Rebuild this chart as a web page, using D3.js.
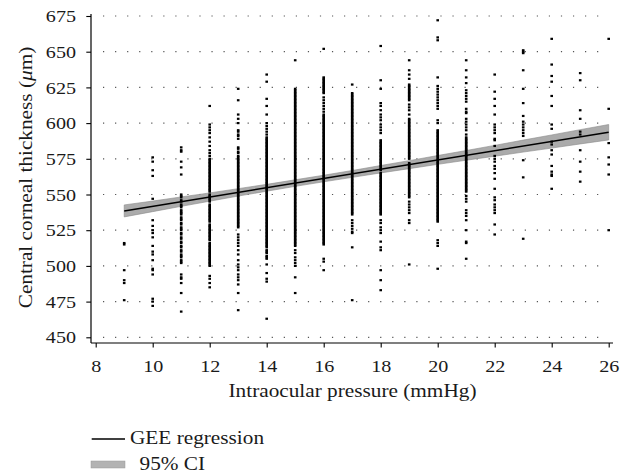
<!DOCTYPE html>
<html>
<head>
  <meta charset="utf-8">
  <script src="https://cdn.jsdelivr.net/npm/d3@7"></script>
  <style>
    body { margin: 0; background: #fff; }
    svg text { font-family: "Liberation Serif", "Times New Roman", serif; fill: #1a1a1a; }
  </style>
</head>
<body>
<script>
// intraocular pressure (mmHg) for each column of points
var iop = [9, 10, 11, 12, 13, 14, 15, 16, 17, 18, 19, 20, 21, 22, 23, 24, 25, 26];

// central corneal thickness (um)
var cct = [
  [516, 515, 497, 490, 488, 476],
  [576, 573, 567, 563, 547, 532, 528, 525, 523, 520, 514, 510, 508, 504, 498, 497, 494, 477, 475, 472],
  [583, 581, 580, 573, 569, 564, 550, 549, 548, 546, 545, 543, 542, 541, 539, 538, 537, 536, 534, 533, 532, 530, 529, 527, 526, 525, 523, 522, 520, 519, 517, 516, 514, 513, 511, 510, 508, 507, 506, 504, 503, 502, 494, 492, 491, 488, 481, 468],
  [612, 599, 597, 595, 593, 590, 587, 584, 581, 579, 577, 575, 574, 573, 572, 571, 570, 569, 568, 567, 566, 565, 564, 563, 562, 561, 560, 559, 558, 557, 556, 555, 554, 553, 552, 550, 549, 548, 547, 546, 545, 543, 542, 541, 540, 539, 538, 537, 536, 535, 534, 533, 532, 531, 529, 528, 527, 526, 525, 524, 523, 522, 521, 520, 519, 518, 516, 515, 514, 513, 512, 511, 510, 509, 508, 507, 506, 505, 504, 503, 502, 501, 500, 493, 491, 488, 485],
  [624, 616, 606, 603, 600, 595, 594, 592, 591, 589, 583, 582, 580, 579, 577, 576, 575, 574, 573, 572, 571, 570, 569, 568, 567, 566, 565, 564, 563, 562, 561, 560, 559, 558, 557, 556, 555, 554, 553, 552, 551, 550, 549, 548, 547, 546, 545, 544, 543, 542, 541, 540, 539, 538, 537, 536, 535, 534, 533, 532, 531, 530, 529, 528, 527, 522, 520, 518, 516, 514, 511, 508, 504, 501, 499, 497, 494, 492, 490, 487, 481, 469],
  [634, 629, 617, 612, 606, 600, 598, 596, 594, 592, 590, 589, 588, 587, 586, 585, 584, 583, 582, 581, 580, 579, 578, 577, 576, 575, 574, 573, 572, 571, 570, 569, 568, 567, 566, 565, 564, 563, 562, 561, 560, 559, 558, 557, 556, 555, 554, 553, 552, 551, 550, 549, 548, 547, 546, 545, 544, 543, 542, 541, 540, 539, 538, 537, 536, 535, 534, 533, 532, 531, 530, 529, 528, 527, 526, 525, 524, 523, 522, 521, 520, 519, 518, 517, 516, 515, 514, 513, 511, 510, 509, 507, 506, 505, 501, 495, 491, 489, 463],
  [644, 624, 623, 622, 621, 620, 619, 618, 617, 616, 615, 614, 613, 612, 611, 610, 609, 608, 607, 606, 605, 604, 603, 602, 601, 600, 599, 598, 597, 596, 595, 594, 593, 592, 591, 590, 589, 588, 587, 586, 585, 584, 583, 582, 581, 580, 579, 578, 577, 576, 575, 574, 573, 572, 571, 570, 569, 568, 567, 566, 565, 564, 563, 562, 561, 560, 559, 558, 557, 556, 555, 554, 553, 552, 551, 550, 549, 548, 547, 546, 545, 544, 543, 542, 541, 540, 539, 538, 537, 536, 535, 534, 533, 532, 531, 530, 529, 528, 527, 526, 525, 524, 523, 522, 521, 520, 519, 518, 517, 516, 515, 514, 511, 509, 506, 504, 502, 500, 492, 481],
  [652, 632, 631, 630, 629, 628, 627, 626, 625, 624, 623, 622, 621, 618, 616, 614, 612, 610, 608, 606, 605, 604, 603, 602, 601, 600, 599, 598, 597, 596, 595, 594, 593, 592, 591, 590, 589, 588, 587, 586, 585, 584, 583, 582, 581, 580, 579, 578, 577, 576, 575, 574, 573, 572, 571, 570, 569, 568, 567, 566, 565, 564, 563, 562, 561, 560, 559, 558, 557, 556, 555, 554, 553, 552, 551, 550, 549, 548, 547, 546, 545, 544, 543, 542, 541, 540, 539, 538, 537, 536, 535, 534, 533, 532, 531, 530, 529, 528, 527, 526, 525, 524, 523, 522, 521, 520, 519, 518, 517, 516, 515, 505, 503, 497],
  [627, 621, 620, 619, 618, 617, 616, 615, 614, 613, 612, 611, 610, 609, 608, 607, 606, 605, 604, 603, 602, 601, 600, 599, 598, 597, 596, 595, 594, 593, 592, 591, 590, 589, 588, 587, 586, 585, 584, 583, 582, 581, 580, 579, 578, 577, 576, 575, 574, 573, 572, 571, 570, 569, 568, 567, 566, 565, 564, 563, 562, 561, 560, 559, 558, 557, 556, 555, 554, 553, 552, 551, 550, 549, 548, 547, 546, 545, 544, 543, 542, 541, 540, 539, 538, 537, 536, 532, 530, 528, 526, 524, 523, 513, 476],
  [654, 630, 624, 614, 612, 609, 606, 604, 602, 599, 597, 595, 593, 588, 587, 586, 585, 584, 583, 582, 581, 580, 579, 578, 577, 576, 575, 574, 573, 572, 571, 570, 569, 568, 567, 565, 564, 563, 562, 561, 560, 559, 558, 557, 556, 555, 554, 553, 552, 551, 550, 549, 548, 547, 546, 545, 544, 543, 542, 541, 540, 539, 538, 537, 536, 532, 530, 527, 525, 523, 517, 513, 511, 497, 490, 483],
  [644, 637, 634, 631, 627, 626, 625, 624, 623, 622, 621, 620, 619, 618, 617, 616, 613, 611, 609, 606, 603, 602, 601, 600, 599, 598, 597, 596, 595, 594, 593, 592, 591, 590, 589, 588, 587, 586, 585, 584, 583, 582, 581, 580, 579, 578, 577, 576, 575, 572, 571, 570, 569, 568, 567, 566, 565, 564, 563, 562, 561, 560, 559, 558, 557, 556, 555, 554, 553, 552, 551, 550, 549, 548, 545, 543, 541, 539, 537, 532, 530, 501],
  [672, 660, 658, 632, 626, 624, 622, 620, 618, 616, 614, 612, 610, 602, 600, 595, 594, 593, 592, 591, 590, 589, 588, 587, 586, 585, 584, 583, 582, 581, 580, 579, 578, 577, 576, 575, 574, 573, 572, 571, 570, 569, 568, 567, 566, 565, 564, 563, 562, 561, 560, 559, 558, 557, 556, 555, 554, 553, 552, 551, 550, 549, 548, 547, 546, 545, 544, 543, 542, 541, 540, 539, 538, 537, 536, 535, 534, 533, 532, 531, 518, 516, 514, 498],
  [644, 637, 632, 628, 623, 621, 619, 617, 615, 610, 608, 607, 603, 601, 599, 597, 595, 592, 590, 589, 588, 587, 586, 585, 584, 583, 582, 581, 580, 579, 578, 577, 576, 575, 574, 573, 572, 571, 570, 569, 568, 567, 566, 565, 564, 563, 562, 561, 560, 559, 558, 557, 556, 555, 554, 553, 552, 549, 547, 545, 539, 537, 535, 532, 525, 517, 516, 505],
  [634, 622, 617, 612, 606, 599, 597, 595, 593, 589, 588, 584, 577, 575, 573, 570, 568, 565, 561, 554, 548, 546, 543, 541, 539, 537, 529, 522],
  [651, 650, 649, 637, 624, 614, 605, 601, 599, 597, 595, 593, 591, 574, 562, 519],
  [659, 641, 633, 629, 619, 612, 599, 596, 587, 585, 581, 578, 570, 566, 564, 563, 554],
  [635, 630, 609, 603, 594, 592, 581, 573, 566, 559],
  [659, 610, 586, 576, 571, 564, 525]
];

// GEE fit, end points
var fitIop = [9, 26];
var fitCct = [538.5, 593.6];

// 95% CI band
var ciIop  = [9, 10, 11, 12, 13, 14, 15, 16, 17, 18, 19, 20, 21, 22, 23, 24, 25, 26];
var ciLow  = [534.3, 538.0, 541.7, 545.3, 548.9, 552.3, 555.7, 558.9, 562.0, 565.1, 568.1, 571.1, 574.0, 576.8, 579.7, 582.5, 585.4, 588.2];
var ciHigh = [542.7, 545.4, 548.3, 551.1, 554.1, 557.1, 560.3, 563.5, 566.8, 570.3, 573.7, 577.3, 580.8, 584.4, 588.1, 591.7, 595.4, 599.0];

var xTicks = [8, 10, 12, 14, 16, 18, 20, 22, 24, 26];
var yTicks = [450, 475, 500, 525, 550, 575, 600, 625, 650, 675];

var W = 628, H = 474;
var sx = 1.15;   // the source font runs wider than Liberation Serif

var svg = d3.select("body").append("svg")
  .attr("width", W)
  .attr("height", H);

var x = d3.scaleLinear().domain([8, 26]).range([95.7, 608.7]);
var y = d3.scaleLinear().domain([450, 675]).range([337.3, 16]);

var axisX = 91, axisY = 343;

// dotted horizontal grid
svg.append("g").selectAll("line")
  .data(yTicks)
  .enter().append("line")
  .attr("x1", 103).attr("x2", 609)
  .attr("y1", function(d) { return y(d); })
  .attr("y2", function(d) { return y(d); })
  .attr("stroke", "#555")
  .attr("stroke-width", 1.2)
  .attr("stroke-dasharray", "1.2,10.85");

// CI band
var band = ciIop.map(function(v, i) { return { x: v, lo: ciLow[i], hi: ciHigh[i] }; });
svg.append("path")
  .datum(band)
  .attr("d", d3.area()
    .x(function(d) { return x(d.x); })
    .y0(function(d) { return y(d.lo); })
    .y1(function(d) { return y(d.hi); }))
  .attr("fill", "#ababab")
  .attr("stroke", "#8a8a8a")
  .attr("stroke-width", 0.6);

// points
var pts = [];
iop.forEach(function(p, i) {
  cct[i].forEach(function(c) { pts.push({ x: p, y: c }); });
});
svg.append("g").selectAll("rect")
  .data(pts)
  .enter().append("rect")
  .attr("x", function(d) { return x(d.x) - 1.3; })
  .attr("y", function(d) { return y(d.y) - 1.1; })
  .attr("width", 2.6)
  .attr("height", 2.2)
  .attr("fill", "#000");

// regression line
svg.append("path")
  .datum(fitIop.map(function(v, i) { return [v, fitCct[i]]; }))
  .attr("d", d3.line()
    .x(function(d) { return x(d[0]); })
    .y(function(d) { return y(d[1]); }))
  .attr("fill", "none")
  .attr("stroke", "#000")
  .attr("stroke-width", 1.5);

// axes
var gy = svg.append("g")
  .attr("transform", "translate(" + axisX + ",0)")
  .call(d3.axisLeft(y).tickValues(yTicks).tickSize(0).tickPadding(0));
gy.select(".domain").remove();
gy.selectAll(".tick line").remove();
gy.selectAll(".tick").append("line")
  .attr("x1", -4.7).attr("x2", 0)
  .attr("stroke", "#000").attr("stroke-width", 1.1);
gy.selectAll(".tick text")
  .attr("x", 0).attr("dy", "0.32em")
  .attr("transform", "translate(-15,0) scale(" + sx + ",1)")
  .style("font-size", "17.5px")
  .style("font-family", "'Liberation Serif', serif")
  .attr("fill", "#1a1a1a");

var gx = svg.append("g")
  .attr("transform", "translate(0," + axisY + ")")
  .call(d3.axisBottom(x).tickValues(xTicks).tickSize(0));
gx.select(".domain").remove();
gx.selectAll(".tick line").remove();
gx.selectAll(".tick").append("line")
  .attr("y1", 0).attr("y2", 4.5)
  .attr("stroke", "#000").attr("stroke-width", 1.1);
gx.selectAll(".tick text")
  .attr("y", 0).attr("dy", 0)
  .attr("transform", "translate(0,29) scale(" + sx + ",1)")
  .style("font-size", "17.5px")
  .style("font-family", "'Liberation Serif', serif")
  .attr("fill", "#1a1a1a");

// axis lines
svg.append("line")
  .attr("x1", axisX).attr("x2", axisX)
  .attr("y1", 14).attr("y2", axisY)
  .attr("stroke", "#000").attr("stroke-width", 1.2);
svg.append("line")
  .attr("x1", axisX).attr("x2", 613)
  .attr("y1", axisY).attr("y2", axisY)
  .attr("stroke", "#000").attr("stroke-width", 1.2);

// axis titles
var yt = svg.append("text")
  .attr("transform", "translate(31.5,177.5) rotate(-90) scale(" + sx + ",1)")
  .attr("text-anchor", "middle")
  .style("font-size", "18.5px");
yt.append("tspan").text("Central corneal thickness (");
yt.append("tspan").style("font-style", "italic").text("μ");
yt.append("tspan").text("m)");

svg.append("text")
  .attr("transform", "translate(352.5,397) scale(" + sx + ",1)")
  .attr("text-anchor", "middle")
  .style("font-size", "18.5px")
  .text("Intraocular pressure (mmHg)");

// legend
svg.append("line")
  .attr("x1", 91.7).attr("x2", 125)
  .attr("y1", 439).attr("y2", 439)
  .attr("stroke", "#000").attr("stroke-width", 1.3);
svg.append("text")
  .attr("transform", "translate(130,443.5) scale(" + sx + ",1)")
  .style("font-size", "18.5px")
  .text("GEE regression");
svg.append("rect")
  .attr("x", 91).attr("y", 461)
  .attr("width", 34).attr("height", 7)
  .attr("fill", "#b3b3b3")
  .attr("stroke", "#9a9a9a").attr("stroke-width", 0.5);
svg.append("text")
  .attr("transform", "translate(139.5,469.5) scale(" + sx + ",1)")
  .style("font-size", "18.5px")
  .text("95% CI");
</script>
</body>
</html>
